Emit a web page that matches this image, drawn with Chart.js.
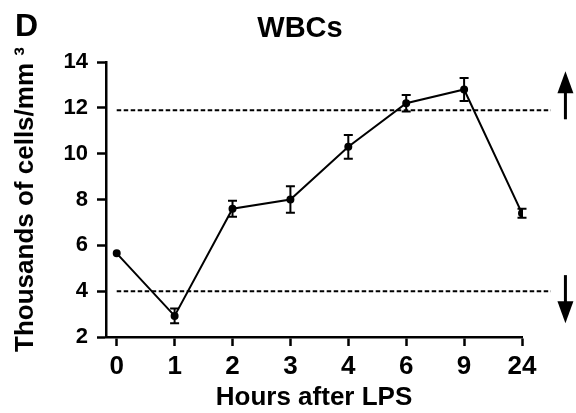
<!DOCTYPE html>
<html lang="en">
<head>
<meta charset="UTF-8">
<title>WBCs</title>
<style>
  html, body { margin: 0; padding: 0; background: #fff; }
  canvas { display: block; }
</style>
</head>
<body>
<canvas id="wbcChart" width="576" height="413"></canvas>

<script src="https://cdn.jsdelivr.net/npm/chart.js"></script>
<script>
  // values (thousands of cells / mm3)
  const hours = ['0', '1', '2', '3', '4', '6', '9', '24'];
  const wbcMean = [5.65, 2.92, 7.6, 8.0, 10.3, 12.2, 12.8, 7.4];
  const wbcErr = [0, 0.32, 0.35, 0.58, 0.52, 0.36, 0.5, 0.2];
  const yTicks = [2, 4, 6, 8, 10, 12, 14];

  // normal range limits (dashed) and the up / down arrows beside them
  const upperLimit = 11.9;
  const lowerLimit = 4.0;
  const limitSpan = [0, 7.5];
  const upArrow = [11.5, 13.6];
  const downArrow = [4.7, 2.6];
  const arrowAt = 7.75;

  Chart.defaults.font.family = "'Liberation Sans', Arial, sans-serif";
  Chart.defaults.font.weight = 'bold';
  Chart.defaults.color = '#000';

  function drawArrow(ctx, x, y0, y1) {
    const dir = y1 < y0 ? 1 : -1;   // 1 = pointing up
    const head = 22;
    ctx.lineWidth = 3;
    ctx.beginPath();
    ctx.moveTo(x, y0);
    ctx.lineTo(x, y1 + dir * head * 0.8);
    ctx.stroke();
    ctx.beginPath();
    ctx.moveTo(x, y1);
    ctx.lineTo(x - 8, y1 + dir * head);
    ctx.lineTo(x + 8, y1 + dir * head);
    ctx.closePath();
    ctx.fill();
  }

  const extras = {
    id: 'extras',
    afterDatasetsDraw(chart) {
      const { ctx, scales: { x, y } } = chart;
      ctx.save();
      ctx.strokeStyle = '#000';
      ctx.fillStyle = '#000';
      ctx.lineWidth = 2;
      wbcMean.forEach((m, i) => {
        if (!wbcErr[i]) return;
        const px = x.getPixelForValue(i);
        const top = y.getPixelForValue(m + wbcErr[i]);
        const bot = y.getPixelForValue(m - wbcErr[i]);
        ctx.beginPath();
        ctx.moveTo(px, top); ctx.lineTo(px, bot);
        ctx.moveTo(px - 4.5, top); ctx.lineTo(px + 4.5, top);
        ctx.moveTo(px - 4.5, bot); ctx.lineTo(px + 4.5, bot);
        ctx.stroke();
      });
      const ax = x.getPixelForValue(arrowAt);
      drawArrow(ctx, ax, y.getPixelForValue(upArrow[0]), y.getPixelForValue(upArrow[1]));
      drawArrow(ctx, ax, y.getPixelForValue(downArrow[0]), y.getPixelForValue(downArrow[1]));
      ctx.restore();
    },
    afterDraw(chart) {
      const ctx = chart.ctx;
      ctx.save();
      ctx.fillStyle = '#000';
      ctx.textBaseline = 'alphabetic';
      ctx.font = "bold 32px 'Liberation Sans', Arial, sans-serif";
      ctx.textAlign = 'left';
      ctx.fillText('D', 15, 36);
      ctx.font = "bold 29px 'Liberation Sans', Arial, sans-serif";
      ctx.textAlign = 'center';
      ctx.fillText('WBCs', 300, 37);
      ctx.restore();
    }
  };

  const ctx = document.getElementById('wbcChart').getContext('2d');
  new Chart(ctx, {
    type: 'line',
    data: {
      datasets: [
        {
          label: 'WBCs',
          data: wbcMean.map((v, i) => ({ x: i, y: v })),
          borderColor: '#000',
          borderWidth: 2,
          pointRadius: 3,
          pointBackgroundColor: '#000',
          pointBorderColor: '#000',
          tension: 0
        },
        {
          label: 'upper limit',
          data: limitSpan.map(v => ({ x: v, y: upperLimit })),
          borderColor: '#000',
          borderWidth: 2,
          borderDash: [4.5, 2.5],
          pointRadius: 0,
          clip: false
        },
        {
          label: 'lower limit',
          data: limitSpan.map(v => ({ x: v, y: lowerLimit })),
          borderColor: '#000',
          borderWidth: 2,
          borderDash: [4.5, 2.5],
          pointRadius: 0,
          clip: false
        }
      ]
    },
    options: {
      responsive: false,
      animation: false,
      layout: { padding: { top: 62, right: 54, left: 0, bottom: 0 } },
      plugins: {
        legend: { display: false },
        tooltip: { enabled: false }
      },
      scales: {
        x: {
          type: 'linear',
          min: -0.185,
          max: 7,
          afterBuildTicks: s => { s.ticks = hours.map((h, i) => ({ value: i })); },
          afterFit: s => { s.height = 76; },
          ticks: {
            callback: v => hours[v],
            font: { size: 26, weight: 'bold' },
            padding: 5,
            maxRotation: 0
          },
          grid: { drawOnChartArea: false, tickLength: 9, tickColor: '#000', tickWidth: 2.5 },
          border: { color: '#000', width: 2.5 },
          title: {
            display: true,
            text: 'Hours after LPS',
            font: { size: 26, weight: 'bold' },
            padding: { top: 0, bottom: 0 }
          }
        },
        y: {
          type: 'linear',
          min: 2,
          max: 14,
          afterBuildTicks: s => { s.ticks = yTicks.map(v => ({ value: v })); },
          afterFit: s => { s.width = 106; },
          ticks: {
            font: { size: 22, weight: 'bold' },
            padding: 9
          },
          grid: { drawOnChartArea: false, tickLength: 9, tickColor: '#000', tickWidth: 2.5 },
          border: { color: '#000', width: 2.5 },
          title: {
            display: true,
            text: 'Thousands of cells/mm ³',
            font: { size: 26, weight: 'bold' },
            padding: { top: 10, bottom: 0 }
          }
        }
      }
    },
    plugins: [extras]
  });
</script>
</body>
</html>
